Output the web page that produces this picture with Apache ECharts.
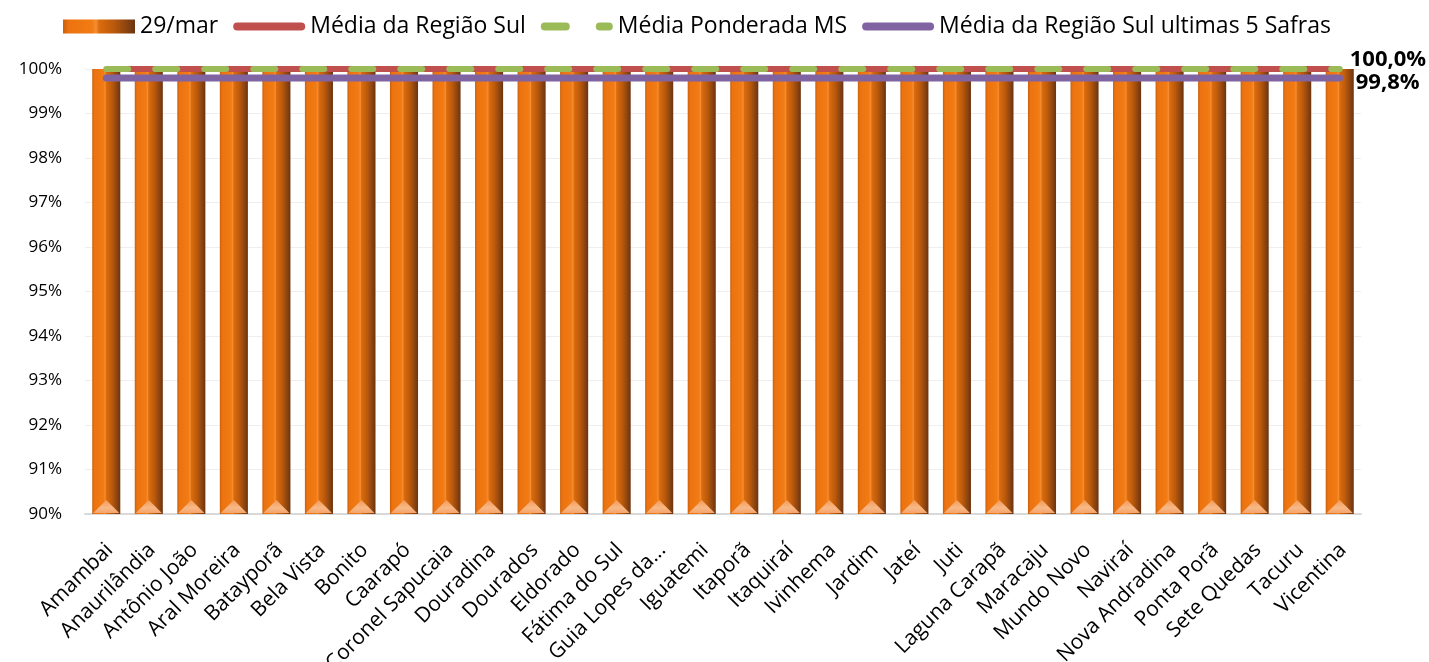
<!DOCTYPE html>
<html>
<head>
<meta charset="utf-8">
<script src="https://cdn.jsdelivr.net/npm/echarts@6/dist/echarts.min.js"></script>
<style>
  html, body { margin: 0; padding: 0; background: #fff; }
  #chart { width: 1429px; height: 662px; }
</style>
</head>
<body>
<div id="chart"></div>
<script>
// Municípios da Região Sul (MS)
const municipios = [
  'Amambai', 'Anaurilândia', 'Antônio João', 'Aral Moreira', 'Batayporã',
  'Bela Vista', 'Bonito', 'Caarapó', 'Coronel Sapucaia', 'Douradina',
  'Dourados', 'Eldorado', 'Fátima do Sul', 'Guia Lopes da Laguna', 'Iguatemi',
  'Itaporã', 'Itaquiraí', 'Ivinhema', 'Jardim', 'Jateí',
  'Juti', 'Laguna Carapã', 'Maracaju', 'Mundo Novo', 'Naviraí',
  'Nova Andradina', 'Ponta Porã', 'Sete Quedas', 'Tacuru', 'Vicentina'
];

// Percentual colhido em 29/mar (%)
const colheita29mar = [
  100, 100, 100, 100, 100, 100, 100, 100, 100, 100,
  100, 100, 100, 100, 100, 100, 100, 100, 100, 100,
  100, 100, 100, 100, 100, 100, 100, 100, 100, 100
];

// Médias de referência (%)
const mediaRegiaoSul = 100.0;
const mediaPonderadaMS = 100.0;
const mediaRegiaoSul5Safras = 99.8;

const yTicks = { min: 90, max: 100, step: 1 };

const fill = v => municipios.map(() => v);
const fmtPct = v => v.toFixed(1).replace('.', ',') + '%';

const font = '"Open Sans", "DejaVu Sans", sans-serif';

// Cylinder-like shading for the bars
const barGradient = () => new echarts.graphic.LinearGradient(0, 0, 1, 0, [
  { offset: 0, color: '#c9600a' },
  { offset: 0.08, color: '#ec7310' },
  { offset: 0.40, color: '#f27b14' },
  { offset: 0.46, color: '#f58e34' },
  { offset: 0.50, color: '#dc6c0c' },
  { offset: 0.70, color: '#bb5a0c' },
  { offset: 0.88, color: '#8c4410' },
  { offset: 1, color: '#6a3410' }
]);

// Bevel highlight at the foot of each bar
const bevelGradient = new echarts.graphic.LinearGradient(0, 0, 0, 1, [
  { offset: 0, color: '#f39a58' },
  { offset: 0.6, color: '#f8b886' },
  { offset: 1, color: '#f5a46c' }
]);

// Legend icons (path keeps its aspect ratio inside the icon box)
const iconLine = 'path://M4,0h64a4,4 0 0 1 0,8h-64a4,4 0 0 1 0,-8z';
const iconDash = 'path://M4,0h21a4,4 0 0 1 0,8h-21a4,4 0 0 1 0,-8z M59,0h9a4,4 0 0 1 0,8h-9a4,4 0 0 1 0,-8z';

const endLabel = (dx, dy) => ({
  show: true,
  formatter: p => fmtPct(p.value),
  fontFamily: font,
  fontWeight: 'bold',
  fontSize: 22,
  color: '#000',
  distance: 10,
  offset: [dx, dy]
});

const chart = echarts.init(document.getElementById('chart'), null, { renderer: 'canvas' });
chart.setOption({
  animation: false,
  legend: {
    top: 10,
    left: 58,
    itemGap: 15,
    itemWidth: 72,
    itemHeight: 14,
    textStyle: { fontFamily: font, fontSize: 23, color: '#000' },
    data: [
      { name: '29/mar', icon: 'rect', itemStyle: { color: barGradient() } },
      { name: 'Média da Região Sul', icon: iconLine },
      { name: 'Média Ponderada MS', icon: iconDash },
      { name: 'Média da Região Sul ultimas 5 Safras', icon: iconLine }
    ]
  },
  grid: {
    left: 85, right: 68, top: 69, bottom: 148,
    containLabel: false,
    outerBoundsMode: 'none'
  },
  xAxis: {
    type: 'category',
    data: municipios,
    axisTick: { show: false },
    axisLine: { lineStyle: { color: '#d9d9d9', width: 2 } },
    axisLabel: {
      interval: 0,
      rotate: 45,
      align: 'right',
      verticalAlign: 'top',
      fontFamily: font,
      fontSize: 21,
      color: '#000',
      margin: 21,
      padding: [0, 6, 0, 0],
      formatter: s => s.length > 16 ? s.slice(0, 13) + '...' : s
    }
  },
  yAxis: {
    type: 'value',
    min: yTicks.min,
    max: yTicks.max,
    interval: yTicks.step,
    axisLine: { show: false },
    axisTick: { show: false },
    splitLine: { lineStyle: { color: '#eeeeee', width: 1 } },
    axisLabel: {
      fontFamily: font,
      fontSize: 17,
      color: '#000',
      margin: 23,
      formatter: v => v + '%'
    }
  },
  series: [
    {
      name: '29/mar',
      type: 'bar',
      data: colheita29mar,
      barWidth: '66%',
      itemStyle: { color: barGradient() },
      z: 1
    },
    {
      // bevel at the base of every bar, sitting on the axis floor
      name: 'base',
      type: 'scatter',
      data: fill(yTicks.min),
      symbol: 'triangle',
      symbolSize: [26, 13],
      symbolOffset: [0, -7.5],
      itemStyle: { color: bevelGradient, opacity: 1 },
      silent: true,
      clip: false,
      z: 2
    },
    {
      name: 'Média da Região Sul',
      type: 'line',
      data: fill(mediaRegiaoSul),
      symbol: 'none',
      lineStyle: { color: '#c0504d', width: 6 },
      itemStyle: { color: '#c0504d' },
      endLabel: endLabel(0, -9),
      z: 3
    },
    {
      name: 'Média Ponderada MS',
      type: 'line',
      data: fill(mediaPonderadaMS),
      symbol: 'none',
      lineStyle: { color: '#9bbb59', width: 6, type: [22, 27], cap: 'round' },
      itemStyle: { color: '#9bbb59' },
      z: 4
    },
    {
      name: 'Média da Região Sul ultimas 5 Safras',
      type: 'line',
      data: fill(mediaRegiaoSul5Safras),
      symbol: 'none',
      lineStyle: { color: '#8064a2', width: 7, cap: 'round' },
      itemStyle: { color: '#8064a2' },
      endLabel: endLabel(6, 5),
      z: 5
    }
  ]
});
</script>
</body>
</html>
